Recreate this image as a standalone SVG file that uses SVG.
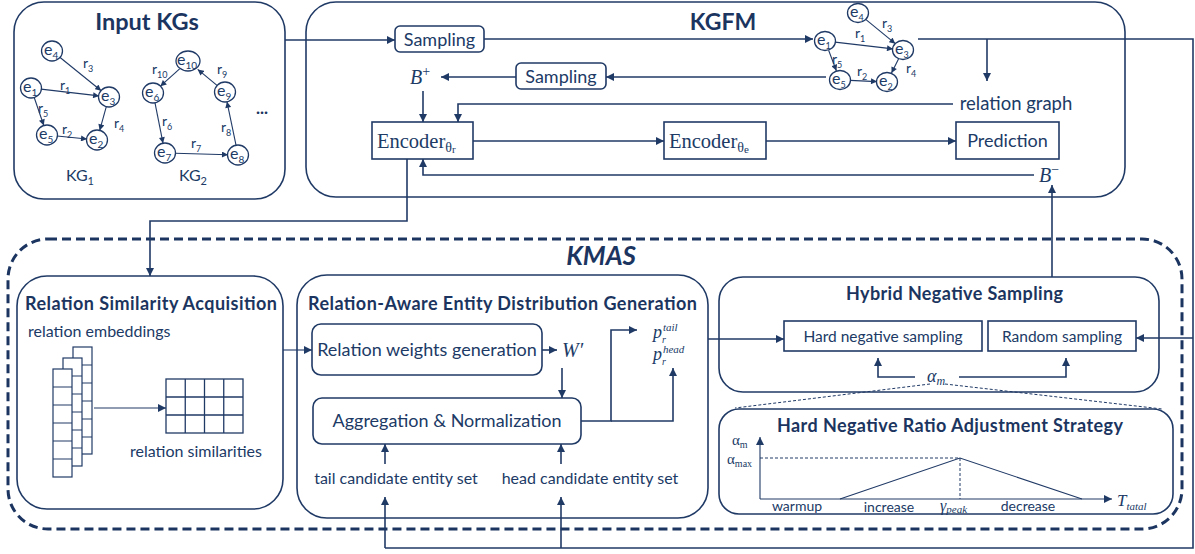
<svg xmlns="http://www.w3.org/2000/svg" width="1195" height="554" viewBox="0 0 1195 554">
<style>
  .bx{fill:none;stroke:#203a66;stroke-width:1.6}
  .ln{fill:none;stroke:#203a66;stroke-width:1.6}
  .thin{fill:none;stroke:#203a66;stroke-width:1.1}
  .dot{fill:none;stroke:#203a66;stroke-width:1;stroke-dasharray:3 2}
  .nd{fill:#fff;stroke:#203a66;stroke-width:1.3}
  .t{font-family:Lato,"Liberation Sans",sans-serif;fill:#203a66}
  .b{font-family:Lato,"Liberation Sans",sans-serif;font-weight:bold;fill:#1b3560}
  .m{font-family:"Liberation Serif","DejaVu Serif",serif;fill:#203a66}
  .mi{font-family:"Liberation Serif","DejaVu Serif",serif;font-style:italic;fill:#203a66}
  .e{font-family:Lato,"Liberation Sans",sans-serif;fill:#203a66;font-size:16px}
  .r{font-family:Lato,"Liberation Sans",sans-serif;fill:#203a66;font-size:14px}
</style>
<defs>
  <marker id="ah" viewBox="0 0 10 10" refX="10" refY="5" markerWidth="9" markerHeight="8" markerUnits="userSpaceOnUse" orient="auto">
    <path d="M0,0 L10,5 L0,10 z" fill="#203a66"/>
  </marker>
  <marker id="as" viewBox="0 0 10 10" refX="10" refY="5" markerWidth="7" markerHeight="6" markerUnits="userSpaceOnUse" orient="auto">
    <path d="M0,0 L10,5 L0,10 z" fill="#203a66"/>
  </marker>
</defs>

<!-- Input KGs -->
<g id="input-kgs">
  <rect class="bx" x="14" y="2" width="271" height="197" rx="30"/>
  <text class="b" x="147" y="30" font-size="23.5" text-anchor="middle">Input KGs</text>
  <g class="kg1">
    <line class="thin" x1="59.8" y1="57.3" x2="101.2" y2="90.7" marker-end="url(#as)"/>
    <line class="thin" x1="41" y1="89.1" x2="99.1" y2="95.9" marker-end="url(#as)"/>
    <line class="thin" x1="34.2" y1="97.5" x2="43.8" y2="125.5" marker-end="url(#as)"/>
    <line class="thin" x1="57" y1="136" x2="87" y2="139" marker-end="url(#as)"/>
    <line class="thin" x1="106.3" y1="106.6" x2="99.7" y2="130.4" marker-end="url(#as)"/>
    <ellipse class="nd" cx="52" cy="51" rx="10.5" ry="10"/>
    <ellipse class="nd" cx="31" cy="88" rx="10.5" ry="10"/>
    <ellipse class="nd" cx="109" cy="97" rx="10.5" ry="10"/>
    <ellipse class="nd" cx="47" cy="135" rx="10.5" ry="10"/>
    <ellipse class="nd" cx="97" cy="140" rx="10.5" ry="10"/>
    <text class="e" x="44" y="55">e<tspan font-size="10" dy="4">4</tspan></text>
    <text class="e" x="23" y="92">e<tspan font-size="10" dy="4">1</tspan></text>
    <text class="e" x="101" y="101">e<tspan font-size="10" dy="4">3</tspan></text>
    <text class="e" x="39" y="139">e<tspan font-size="10" dy="4">5</tspan></text>
    <text class="e" x="89" y="144">e<tspan font-size="10" dy="4">2</tspan></text>
    <text class="r" x="83" y="68">r<tspan font-size="9" dy="4">3</tspan></text>
    <text class="r" x="60" y="90">r<tspan font-size="9" dy="4">1</tspan></text>
    <text class="r" x="38" y="113">r<tspan font-size="9" dy="4">5</tspan></text>
    <text class="r" x="62" y="134">r<tspan font-size="9" dy="4">2</tspan></text>
    <text class="r" x="114" y="128">r<tspan font-size="9" dy="4">4</tspan></text>
    <text class="t" x="80" y="181" font-size="16" text-anchor="middle">KG<tspan font-size="11" dy="4">1</tspan></text>
  </g>
  <g class="kg2">
    <line class="thin" x1="217.3" y1="85.6" x2="197.7" y2="69.4" marker-end="url(#as)"/>
    <line class="thin" x1="179.6" y1="68.8" x2="160.4" y2="86.2" marker-end="url(#as)"/>
    <line class="thin" x1="155" y1="102.8" x2="163" y2="143.2" marker-end="url(#as)"/>
    <line class="thin" x1="175" y1="153.3" x2="228" y2="154.7" marker-end="url(#as)"/>
    <line class="thin" x1="236" y1="145.2" x2="227" y2="101.8" marker-end="url(#as)"/>
    <ellipse class="nd" cx="188" cy="61" rx="12" ry="10"/>
    <ellipse class="nd" cx="153" cy="93" rx="10.5" ry="10"/>
    <ellipse class="nd" cx="225" cy="92" rx="10.5" ry="10"/>
    <ellipse class="nd" cx="165" cy="153" rx="10.5" ry="10"/>
    <ellipse class="nd" cx="238" cy="155" rx="10.5" ry="10"/>
    <text class="e" x="177" y="65">e<tspan font-size="10" dy="4">10</tspan></text>
    <text class="e" x="145" y="97">e<tspan font-size="10" dy="4">6</tspan></text>
    <text class="e" x="217" y="96">e<tspan font-size="10" dy="4">9</tspan></text>
    <text class="e" x="157" y="157">e<tspan font-size="10" dy="4">7</tspan></text>
    <text class="e" x="230" y="159">e<tspan font-size="10" dy="4">8</tspan></text>
    <text class="r" x="152" y="74">r<tspan font-size="9" dy="4">10</tspan></text>
    <text class="r" x="217" y="74">r<tspan font-size="9" dy="4">9</tspan></text>
    <text class="r" x="162" y="126">r<tspan font-size="9" dy="4">6</tspan></text>
    <text class="r" x="191" y="148">r<tspan font-size="9" dy="4">7</tspan></text>
    <text class="r" x="221" y="132">r<tspan font-size="9" dy="4">8</tspan></text>
    <text class="b" x="262" y="114" font-size="17" text-anchor="middle">...</text>
    <text class="t" x="193" y="181" font-size="16" text-anchor="middle">KG<tspan font-size="11" dy="4">2</tspan></text>
  </g>
</g>

<!-- KGFM -->
<g id="kgfm">
  <rect class="bx" x="306" y="2" width="819" height="195" rx="30"/>
  <text class="b" x="723" y="30" font-size="23" text-anchor="middle">KGFM</text>
</g>
<g id="sampling-1">
  <rect class="bx" x="395" y="26" width="89" height="26" rx="5"/>
  <text class="t" x="439.5" y="45.5" font-size="18" text-anchor="middle">Sampling</text>
</g>
<g id="sampling-2">
  <rect class="bx" x="516" y="63" width="90" height="26" rx="5"/>
  <text class="t" x="561" y="82.5" font-size="18" text-anchor="middle">Sampling</text>
</g>
<g id="b-plus">
  <text class="mi" x="410" y="84" font-size="20">B<tspan font-style="normal" font-size="14" dy="-8">+</tspan></text>
</g>
<g id="kgfm-graph">
  <line class="thin" x1="865.7" y1="19.3" x2="895.3" y2="43.7" marker-end="url(#as)"/>
  <line class="thin" x1="835" y1="42.1" x2="893" y2="48.9" marker-end="url(#as)"/>
  <line class="thin" x1="828.6" y1="50.3" x2="836.4" y2="70.7" marker-end="url(#as)"/>
  <line class="thin" x1="850" y1="80.4" x2="877" y2="81.6" marker-end="url(#as)"/>
  <line class="thin" x1="898.5" y1="58.9" x2="891.5" y2="73.1" marker-end="url(#as)"/>
  <ellipse class="nd" cx="858" cy="13" rx="10.5" ry="9.5"/>
  <ellipse class="nd" cx="825" cy="41" rx="10.5" ry="9.5"/>
  <ellipse class="nd" cx="903" cy="50" rx="10.5" ry="9.5"/>
  <ellipse class="nd" cx="840" cy="80" rx="10.5" ry="9.5"/>
  <ellipse class="nd" cx="887" cy="82" rx="10.5" ry="9.5"/>
  <text class="e" x="850" y="17" font-size="15">e<tspan font-size="9" dy="4">4</tspan></text>
  <text class="e" x="817" y="45" font-size="15">e<tspan font-size="9" dy="4">1</tspan></text>
  <text class="e" x="895" y="54" font-size="15">e<tspan font-size="9" dy="4">3</tspan></text>
  <text class="e" x="832" y="84" font-size="15">e<tspan font-size="9" dy="4">5</tspan></text>
  <text class="e" x="879" y="86" font-size="15">e<tspan font-size="9" dy="4">2</tspan></text>
  <text class="r" x="882" y="28" font-size="13">r<tspan font-size="9" dy="4">3</tspan></text>
  <text class="r" x="855" y="38" font-size="13">r<tspan font-size="9" dy="4">1</tspan></text>
  <text class="r" x="832" y="64" font-size="13">r<tspan font-size="9" dy="4">5</tspan></text>
  <text class="r" x="857" y="76" font-size="13">r<tspan font-size="9" dy="4">2</tspan></text>
  <text class="r" x="906" y="73" font-size="13">r<tspan font-size="9" dy="4">4</tspan></text>
</g>
<g id="relation-graph">
  <text class="t" x="1016" y="110" font-size="18.5" text-anchor="middle">relation graph</text>
</g>
<g id="encoder-r">
  <rect class="bx" x="372" y="122" width="101" height="37"/>
  <text class="m" x="377" y="148" font-size="20.5">Encoder<tspan font-size="14" dy="4">θ</tspan><tspan font-size="11" dy="1">r</tspan></text>
</g>
<g id="encoder-e">
  <rect class="bx" x="664" y="122" width="102" height="37"/>
  <text class="m" x="669" y="148" font-size="20.5">Encoder<tspan font-size="14" dy="4">θ</tspan><tspan font-size="11" dy="1">e</tspan></text>
</g>
<g id="prediction">
  <rect class="bx" x="956" y="122" width="103" height="37"/>
  <text class="t" x="1007.5" y="147" font-size="18" text-anchor="middle">Prediction</text>
</g>
<g id="b-minus">
  <text class="mi" x="1039" y="182" font-size="20">B<tspan font-style="normal" font-size="14" dy="-8">−</tspan></text>
</g>

<!-- KMAS -->
<g id="kmas">
  <rect x="8" y="239" width="1174" height="290" rx="40" fill="none" stroke="#1b3560" stroke-width="3" stroke-dasharray="9 5"/>
  <text class="b" x="601" y="265" font-size="26" font-style="italic" text-anchor="middle">KMAS</text>
</g>
<g id="relation-similarity-acquisition">
  <rect class="bx" x="17" y="276" width="266" height="233" rx="30"/>
  <text class="b" x="25" y="310" font-size="18" textLength="252" lengthAdjust="spacing">Relation Similarity Acquisition</text>
  <text class="t" x="28" y="337" font-size="16">relation embeddings</text>
  <g class="stack" fill="#fff" stroke="#203a66" stroke-width="1.2">
    <rect x="73" y="347" width="19" height="107"/>
    <path d="M73,365 H92 M73,383 H92 M73,401 H92 M73,419 H92 M73,437 H92" fill="none"/>
    <rect x="63" y="358" width="19" height="108"/>
    <path d="M63,376 H82 M63,394 H82 M63,412 H82 M63,430 H82 M63,448 H82" fill="none"/>
    <rect x="53" y="369" width="19" height="108"/>
    <path d="M53,387 H72 M53,405 H72 M53,423 H72 M53,441 H72 M53,459 H72" fill="none"/>
  </g>
  <line class="thin" x1="94" y1="408" x2="166" y2="408" marker-end="url(#ah)"/>
  <g class="grid" fill="none" stroke="#203a66" stroke-width="1.3">
    <rect x="166" y="379" width="77" height="54"/>
    <path d="M185.25,379 V433 M204.5,379 V433 M223.75,379 V433 M166,397 H243 M166,415 H243"/>
  </g>
  <text class="t" x="196" y="457" font-size="16" text-anchor="middle">relation similarities</text>
</g>
<g id="relation-aware-entity-distribution-generation">
  <rect class="bx" x="297" y="275" width="411" height="243" rx="30"/>
  <text class="b" x="308" y="310" font-size="18" textLength="389" lengthAdjust="spacing">Relation-Aware Entity Distribution Generation</text>
  <text class="t" x="396" y="484" font-size="16" text-anchor="middle">tail candidate entity set</text>
  <text class="t" x="590" y="484" font-size="16" text-anchor="middle">head candidate entity set</text>
  <text class="mi" x="653" y="338" font-size="18">p<tspan font-size="10" dy="5">r</tspan><tspan font-size="11" dx="-3" dy="-12">tail</tspan></text>
  <text class="mi" x="653" y="360" font-size="18">p<tspan font-size="10" dy="5">r</tspan><tspan font-size="11" dx="-3" dy="-12">head</tspan></text>
  <text class="mi" x="562" y="357" font-size="20">W′</text>
</g>
<g id="relation-weights-generation">
  <rect class="bx" x="312" y="324" width="230" height="51" rx="9"/>
  <text class="t" x="427" y="356" font-size="18" text-anchor="middle">Relation weights generation</text>
</g>
<g id="aggregation-normalization">
  <rect class="bx" x="313" y="398" width="268" height="46" rx="9"/>
  <text class="t" x="447" y="427" font-size="18" text-anchor="middle">Aggregation &amp; Normalization</text>
</g>
<g id="hybrid-negative-sampling">
  <rect class="bx" x="719" y="277" width="440" height="115" rx="24"/>
  <text class="b" x="846" y="300" font-size="18" textLength="217" lengthAdjust="spacing">Hybrid Negative Sampling</text>
  <text class="mi" x="927" y="382" font-size="18">α<tspan font-size="12" dy="3">m</tspan></text>
</g>
<g id="hard-negative-sampling">
  <rect class="bx" x="784" y="321" width="198" height="30"/>
  <text class="t" x="883" y="342" font-size="15.5" text-anchor="middle">Hard negative sampling</text>
</g>
<g id="random-sampling">
  <rect class="bx" x="988" y="321" width="148" height="30"/>
  <text class="t" x="1062" y="342" font-size="15.5" text-anchor="middle">Random sampling</text>
</g>
<g id="hard-negative-ratio-adjustment-strategy">
  <rect class="bx" x="719" y="409" width="454" height="105" rx="20"/>
  <text class="b" x="777" y="432" font-size="18" textLength="346" lengthAdjust="spacing">Hard Negative Ratio Adjustment Strategy</text>
  <line class="thin" x1="760" y1="499" x2="760" y2="437" marker-end="url(#ah)"/>
  <line class="thin" x1="760" y1="499" x2="1112" y2="499" marker-end="url(#ah)"/>
  <path class="dot" d="M760,458 H960 V499"/>
  <path class="thin" d="M840,499 L960,458 L1082,499"/>
  <text class="m" x="732" y="445" font-size="15">α<tspan font-size="10" dy="3">m</tspan></text>
  <text class="m" x="727" y="464" font-size="15">α<tspan font-size="10" dy="3">max</tspan></text>
  <text class="t" x="797" y="511" font-size="14" text-anchor="middle">warmup</text>
  <text class="t" x="889" y="512" font-size="14" text-anchor="middle">increase</text>
  <text class="mi" x="940" y="511" font-size="16">γ<tspan font-size="11" dy="2">peak</tspan></text>
  <text class="t" x="1028" y="511" font-size="14" text-anchor="middle">decrease</text>
  <text class="mi" x="1117" y="506" font-size="17">T<tspan font-size="11" dy="4">tatal</tspan></text>
</g>

<!-- connectors -->
<g id="connectors">
  <line class="ln" x1="285" y1="40" x2="395" y2="40" marker-end="url(#ah)"/>
  <line class="ln" x1="484" y1="39" x2="813" y2="39" marker-end="url(#ah)"/>
  <line class="ln" x1="826" y1="77" x2="606" y2="77" marker-end="url(#ah)"/>
  <line class="ln" x1="516" y1="77" x2="441" y2="77" marker-end="url(#ah)"/>
  <line class="ln" x1="423" y1="91" x2="423" y2="122" marker-end="url(#ah)"/>
  <polyline class="ln" points="953,104 458,104 458,122" marker-end="url(#ah)"/>
  <polyline class="ln" points="918,39 1193,39 1193,548 385,548"/>
  <line class="ln" x1="987" y1="39" x2="987" y2="81" marker-end="url(#ah)"/>
  <line class="ln" x1="473" y1="141" x2="664" y2="141" marker-end="url(#ah)"/>
  <line class="ln" x1="766" y1="141" x2="956" y2="141" marker-end="url(#ah)"/>
  <polyline class="ln" points="1034,175 423,175 423,159" marker-end="url(#ah)"/>
  <line class="ln" x1="1052" y1="277" x2="1052" y2="185" marker-end="url(#ah)"/>
  <polyline class="ln" points="407,159 407,221 150,221 150,276" marker-end="url(#ah)"/>
  <line class="thin" x1="283" y1="350" x2="312" y2="350" marker-end="url(#ah)"/>
  <line class="ln" x1="542" y1="350" x2="557" y2="350" marker-end="url(#ah)"/>
  <line class="ln" x1="562" y1="368" x2="562" y2="398" marker-end="url(#ah)"/>
  <polyline class="ln" points="581,421 611,421 611,330 637,330" marker-end="url(#ah)"/>
  <polyline class="ln" points="611,421 673,421 673,368" marker-end="url(#ah)"/>
  <line class="ln" x1="385" y1="464" x2="385" y2="444" marker-end="url(#ah)"/>
  <line class="ln" x1="561" y1="464" x2="561" y2="444" marker-end="url(#ah)"/>
  <line class="ln" x1="385" y1="548" x2="385" y2="497" marker-end="url(#ah)"/>
  <line class="ln" x1="561" y1="548" x2="561" y2="497" marker-end="url(#ah)"/>
  <line class="ln" x1="708" y1="339" x2="784" y2="339" marker-end="url(#ah)"/>
  <line class="ln" x1="1193" y1="338" x2="1136" y2="338" marker-end="url(#ah)"/>
  <polyline class="ln" points="915,377 878,377 878,358" marker-end="url(#ah)"/>
  <polyline class="ln" points="959,377 1066,377 1066,358" marker-end="url(#ah)"/>
  <line class="dot" x1="930" y1="384" x2="735" y2="408"/>
  <line class="dot" x1="945" y1="384" x2="1162" y2="409"/>
</g>
</svg>
